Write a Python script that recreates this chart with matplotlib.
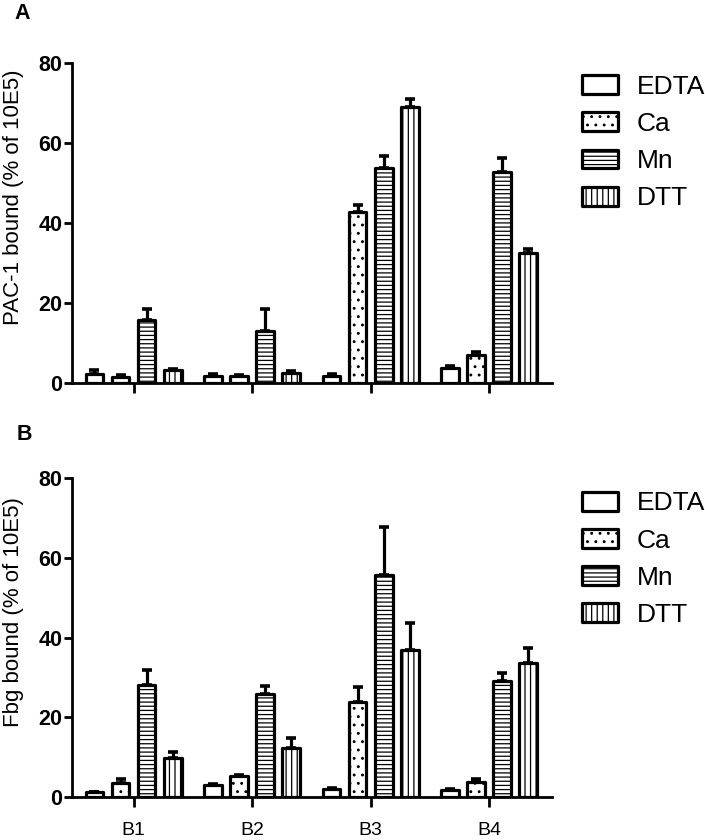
import numpy as np
import matplotlib
matplotlib.use("Agg")
import matplotlib.pyplot as plt

plt.rcParams['font.family'] = ['Liberation Sans', 'DejaVu Sans']
plt.rcParams['hatch.linewidth'] = 0.9

groups = ["B1", "B2", "B3", "B4"]
treatments = ["EDTA", "Ca", "Mn", "DTT"]
hatches = ["", "..", "----", "|||"]

# panel A: PAC-1 bound
pac_edta = [2.2, 1.8, 1.7, 3.8]
pac_ca = [1.6, 1.8, 42.8, 7.0]
pac_mn = [15.8, 13.0, 53.7, 52.8]
pac_dtt = [3.3, 2.6, 68.9, 32.5]
pac_edta_err = [1.0, 0.4, 0.5, 0.4]
pac_ca_err = [0.3, 0.2, 1.8, 0.8]
pac_mn_err = [2.8, 5.5, 3.0, 3.5]
pac_dtt_err = [0.3, 0.3, 2.0, 1.0]

# panel B: Fbg bound
fbg_edta = [1.2, 3.0, 2.0, 1.8]
fbg_ca = [3.5, 5.2, 23.8, 3.7]
fbg_mn = [28.0, 25.8, 55.8, 29.2]
fbg_dtt = [9.8, 12.2, 37.0, 33.6]
fbg_edta_err = [0.2, 0.2, 0.2, 0.3]
fbg_ca_err = [1.0, 0.4, 3.8, 0.9]
fbg_mn_err = [3.8, 2.0, 11.8, 1.8]
fbg_dtt_err = [1.6, 2.6, 6.6, 3.8]

panels = [
    ("A", "PAC-1 bound (% of 10E5)", [pac_edta, pac_ca, pac_mn, pac_dtt],
     [pac_edta_err, pac_ca_err, pac_mn_err, pac_dtt_err]),
    ("B", "Fbg bound (% of 10E5)", [fbg_edta, fbg_ca, fbg_mn, fbg_dtt],
     [fbg_edta_err, fbg_ca_err, fbg_mn_err, fbg_dtt_err]),
]

fig = plt.figure(figsize=(7.05, 8.4), dpi=100)
ax_pos = [[0.102, 0.544, 0.681, 0.381], [0.102, 0.051, 0.681, 0.380]]
leg_anchor = [(0.826, 0.911), (0.826, 0.415)]
letter_pos = [(0.021, 0.997), (0.023, 0.495)]

x = np.arange(len(groups))
step = 0.22
width = 0.15
lw = 2.3

for k, (letter, ylabel, vals, errs) in enumerate(panels):
    ax = fig.add_axes(ax_pos[k])
    for i, name in enumerate(treatments):
        pos = x + (i - 1.5) * step
        ax.errorbar(pos, vals[i], yerr=[np.zeros(len(groups)), errs[i]],
                    fmt="none", ecolor="black", elinewidth=2.3,
                    capsize=3.8, capthick=2.6, zorder=1)
        bars = ax.bar(pos, vals[i], width, color="white", edgecolor="black",
                      linewidth=lw, hatch=hatches[i], label=name, zorder=2)
        for b in bars:
            b.set_joinstyle("round")
    ax.set_xlim(-0.52, 3.53)
    ax.set_ylim(0, 80)
    ax.set_yticks([0, 20, 40, 60, 80])
    ax.set_xticks(x)
    if k == 1:
        ax.set_xticklabels(groups, fontsize=14)
    else:
        ax.set_xticklabels([])
    for t in ax.get_yticklabels():
        t.set_fontweight("bold")
        t.set_fontsize(15.5)
    ax.spines["top"].set_visible(False)
    ax.spines["right"].set_visible(False)
    ax.spines["left"].set_linewidth(2.0)
    ax.spines["bottom"].set_linewidth(2.0)
    ax.tick_params(axis="y", length=6, width=2.0, pad=1)
    ax.tick_params(axis="x", length=7, width=2.0, pad=11)
    ax.set_ylabel(ylabel, fontsize=16)
    ax.yaxis.set_label_coords(-0.100, 0.58)
    leg = ax.legend(loc="upper left", bbox_to_anchor=leg_anchor[k],
                    bbox_transform=fig.transFigure, frameon=False,
                    fontsize=19, borderpad=0, borderaxespad=0,
                    labelspacing=0.5, handlelength=1.37, handleheight=0.72,
                    handletextpad=0.7)
    for p in leg.get_patches():
        p.set_linewidth(lw)
        p.set_joinstyle("round")
    fig.text(letter_pos[k][0], letter_pos[k][1], letter, fontsize=15.5,
             fontweight="bold", va="top", ha="left")

fig.savefig("out.png", dpi=100)
